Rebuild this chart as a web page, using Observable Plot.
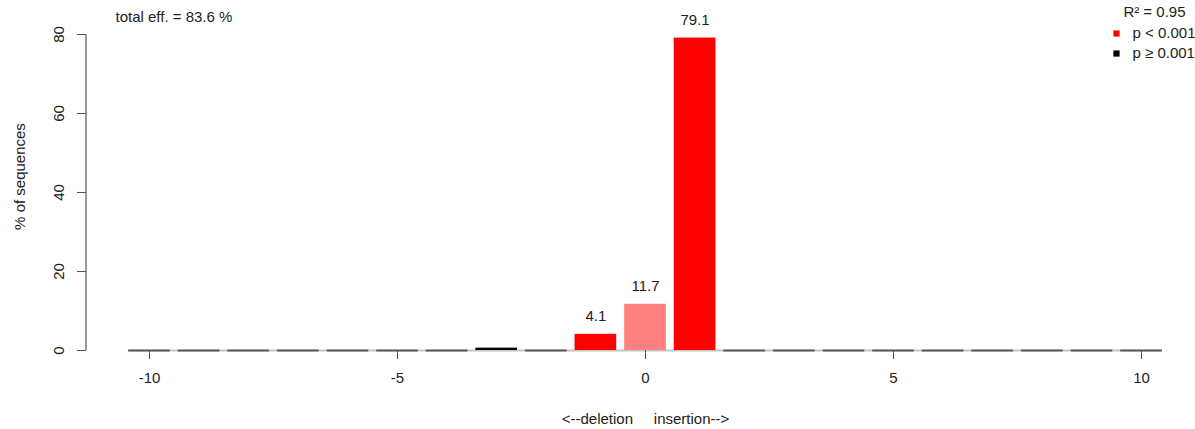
<!DOCTYPE html>
<html><head><meta charset="utf-8">
<script src="https://cdn.jsdelivr.net/npm/d3@7"></script>
<script src="https://cdn.jsdelivr.net/npm/@observablehq/plot@0.6"></script>
<style>body{margin:0;background:#fff;} svg{font-family:"Liberation Sans",Arial,sans-serif;}</style>
</head><body><div id="chart"></div>
<script>
const positions = [-10,-9,-8,-7,-6,-5,-4,-3,-2,-1,0,1,2,3,4,5,6,7,8,9,10];
const percents  = [0,0,0,0,0,0,0,0.6,0,4.1,11.7,79.1,0,0,0,0,0,0,0,0,0];
const classes   = ["ns","ns","ns","ns","ns","ns","ns","ns","ns","sig","wt","sig","ns","ns","ns","ns","ns","ns","ns","ns","ns"];
const xTicks = [-10,-5,0,5,10];
const yTicks = [0,20,40,60,80];
const titleText = "total eff. = 83.6 %";
const r2Text = "R\u00B2 = 0.95";
const legendLabels = ["p < 0.001", "p \u2265 0.001"];
const xLabel = "<--deletion     insertion-->";
const yLabel = "% of sequences";

const colorOf = {sig: "#ff0000", wt: "#ff7f7f", ns: "#000000"};
const halfW = 0.42;
const data = positions.map((p, i) => ({pos: p, value: percents[i], cls: classes[i]}));
const nonzero = data.filter(d => d.value > 0);
const zero = data.filter(d => d.value === 0);
const labeled = data.filter(d => d.value >= 1);
const base = [{x1: positions[0] - halfW, x2: positions[positions.length - 1] + halfW}];

const yAxisLine = (index, scales, values, dims) => {
  const g = d3.create("svg:g");
  g.append("line")
    .attr("x1", dims.marginLeft).attr("x2", dims.marginLeft)
    .attr("y1", scales.y(yTicks[0])).attr("y2", scales.y(yTicks[yTicks.length - 1]))
    .attr("stroke", "#555").attr("stroke-width", 1.2);
  return g.node();
};

const FS = 15;
const txt = {fontSize: FS, fill: "#222", lineAnchor: "middle", text: d => d};
const chart = Plot.plot({
  width: 1195, height: 429,
  marginTop: 34, marginBottom: 79, marginLeft: 86, marginRight: 0,
  style: {fontFamily: "Liberation Sans, Arial, sans-serif", fontSize: FS + "px", color: "#222"},
  x: {domain: [-10, 10], range: [149, 1141]},
  y: {domain: [0, 80], range: [350, 34]},
  marks: [
    Plot.ruleY(base, {x1: "x1", x2: "x2", y: 0, stroke: "#c4c4c4", strokeWidth: 2}),
    Plot.ruleY(zero, {x1: d => d.pos - halfW, x2: d => d.pos + halfW, y: 0, stroke: "#5a5a5a", strokeWidth: 1.8}),
    Plot.rectY(nonzero, {x1: d => d.pos - halfW, x2: d => d.pos + halfW, y1: 0, y2: "value", fill: d => colorOf[d.cls]}),
    Plot.text(labeled, {x: "pos", y: "value", text: d => d.value.toFixed(1), dy: -18, fontSize: FS, fill: "#222"}),
    Plot.axisX({ticks: xTicks, tickFormat: d => String(d), tickSize: 9, tickPadding: 13, stroke: "#555", label: null, fontSize: FS}),
    Plot.axisY({ticks: yTicks, tickFormat: d => String(d), tickSize: 9, tickPadding: 14, tickRotate: -90, stroke: "#555", label: null, fontSize: FS}),
    yAxisLine,
    Plot.text([xLabel], {...txt, x: 0, frameAnchor: "bottom", dy: 69}),
    Plot.text([yLabel], {...txt, frameAnchor: "left", dx: -66, dy: -16, rotate: -90, textAnchor: "middle"}),
    Plot.text([titleText], {...txt, frameAnchor: "top-left", dx: 29, dy: -17, textAnchor: "start"}),
    Plot.text([r2Text], {...txt, frameAnchor: "top-right", dx: -10, dy: -22, textAnchor: "end"}),
    Plot.dot([legendLabels[0]], {frameAnchor: "top-right", dx: -79, dy: -1, symbol: "square", r: 3.5, fill: colorOf.sig}),
    Plot.dot([legendLabels[1]], {frameAnchor: "top-right", dx: -79, dy: 19, symbol: "square", r: 3.5, fill: colorOf.ns}),
    Plot.text([legendLabels[0]], {...txt, frameAnchor: "top-right", dx: -63, dy: -1, textAnchor: "start"}),
    Plot.text([legendLabels[1]], {...txt, frameAnchor: "top-right", dx: -63, dy: 19, textAnchor: "start"})
  ]
});
document.getElementById("chart").appendChild(chart);
</script></body></html>
